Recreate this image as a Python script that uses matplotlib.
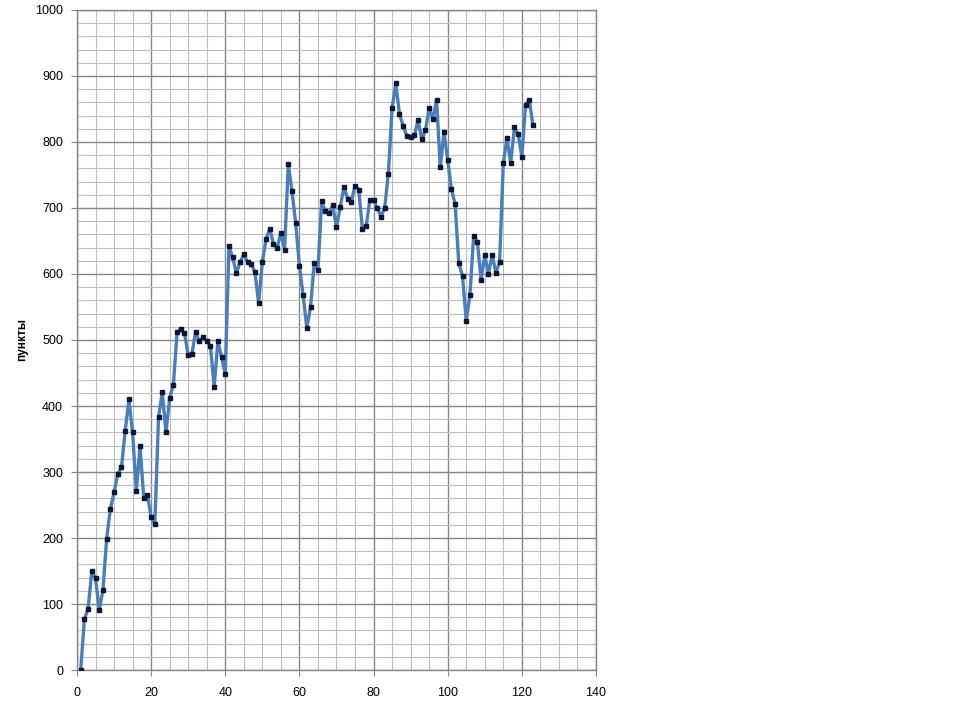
import matplotlib
matplotlib.use("Agg")
import matplotlib.pyplot as plt
from matplotlib.ticker import MultipleLocator

# values, one per step (x = 1..123)
steps = list(range(1, 124))
points = [
    0, 77, 93, 150, 139, 91, 121, 199, 244, 269,
    297, 307, 362, 410, 360, 271, 339, 261, 265, 232,
    221, 383, 421, 360, 412, 432, 512, 516, 510, 477,
    479, 512, 498, 504, 498, 491, 429, 498, 474, 448,
    642, 625, 601, 618, 630, 618, 615, 603, 556, 618,
    653, 668, 646, 640, 662, 637, 767, 725, 677, 612,
    568, 518, 550, 617, 606, 710, 695, 692, 704, 671,
    701, 732, 714, 709, 734, 728, 668, 672, 712, 712,
    700, 687, 700, 752, 851, 889, 842, 824, 809, 807,
    810, 833, 804, 818, 851, 835, 864, 762, 815, 773,
    729, 706, 616, 597, 529, 568, 658, 649, 591, 629,
    600, 629, 602, 618, 768, 806, 768, 822, 812, 778,
    856, 864, 825,
]
y_label = "пункты"

plt.rcParams["font.family"] = ["Liberation Sans", "DejaVu Sans"]

fig = plt.figure(figsize=(9.6, 7.07), dpi=100)
ax = fig.add_axes([0.0802, 0.0523, 0.5406, 0.9336])

ax.plot(steps, points, color="#4A7EBB", lw=2.4, zorder=3)
ax.plot(steps, points, ls="none", marker="s", ms=3.2,
        mfc="#0d1636", mec="#0d1636", zorder=4)

ax.set_xlim(0, 140)
ax.set_ylim(0, 1000)
ax.xaxis.set_major_locator(MultipleLocator(20))
ax.xaxis.set_minor_locator(MultipleLocator(5))
ax.yaxis.set_major_locator(MultipleLocator(100))
ax.yaxis.set_minor_locator(MultipleLocator(20))

ax.grid(which="major", color="#868686", lw=1.0, zorder=1)
ax.grid(which="minor", color="#bdbdbd", lw=0.8, zorder=0)
ax.set_axisbelow(True)

for s in ax.spines.values():
    s.set_color("#868686")
    s.set_linewidth(1.0)

ax.tick_params(which="major", length=4, color="#868686", labelsize=9,
               labelcolor="#000000")
ax.tick_params(axis="x", which="major", pad=8)
ax.tick_params(axis="y", which="major", pad=6)
ax.tick_params(which="minor", length=0)

ax.set_ylabel(y_label, fontsize=8.5, fontweight="bold", labelpad=5)

fig.savefig("out.png", dpi=100)
